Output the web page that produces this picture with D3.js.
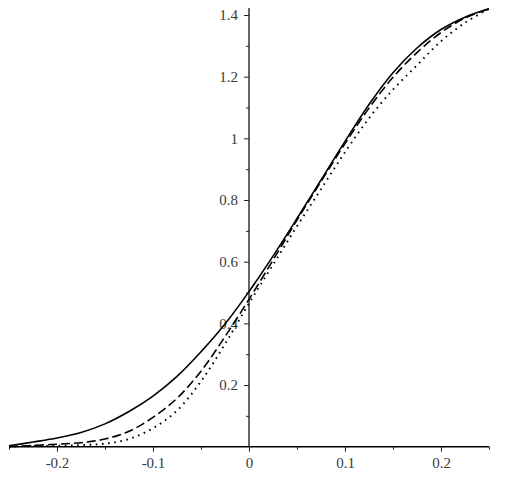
<!DOCTYPE html>
<html><head><meta charset="utf-8">
<script src="https://cdn.jsdelivr.net/npm/d3@7"></script>
<style>body{margin:0;background:#fff}</style>
</head><body>
<svg id="c" width="512" height="500"></svg>
<script>
const xs = [-0.25,-0.225,-0.2,-0.175,-0.15,-0.125,-0.1,-0.075,-0.05,-0.025,0,0.025,0.05,0.075,0.1,0.125,0.15,0.175,0.2,0.225,0.25];
const solid  = [0.003,0.015,0.028,0.046,0.074,0.114,0.164,0.228,0.308,0.398,0.503,0.618,0.74,0.865,0.99,1.11,1.213,1.293,1.353,1.393,1.42];
const dashed = [0.0,0.004,0.008,0.013,0.025,0.05,0.095,0.157,0.245,0.357,0.478,0.605,0.735,0.86,0.983,1.098,1.198,1.278,1.343,1.39,1.42];
const dotted = [0.0,0.002,0.003,0.005,0.01,0.025,0.06,0.117,0.212,0.333,0.465,0.59,0.715,0.835,0.955,1.065,1.158,1.237,1.315,1.375,1.42];
const xMajor = [-0.2,-0.1,0,0.1,0.2];
const xMinor = [-0.25,-0.15,-0.05,0.05,0.15,0.25];
const yMajor = [0.2,0.4,0.6,0.8,1,1.2,1.4];
const yMinor = [0.1,0.3,0.5,0.7,0.9,1.1,1.3];

const svg = d3.select("#c");
const x = d3.scaleLinear().domain([-0.25,0.25]).range([9,489]);
const y = d3.scaleLinear().domain([0,1.4]).range([446.7,15]);
const fmt = d => String(d);

// x axis
const gx = svg.append("g").attr("transform",`translate(0,${y(0)})`);
gx.append("line").attr("x1",x(-0.25)).attr("x2",x(0.25)).attr("stroke","#000").attr("stroke-width",1.6);
gx.append("g").call(d3.axisBottom(x).tickValues(xMajor).tickSize(5).tickPadding(6).tickFormat(fmt));
gx.append("g").call(d3.axisBottom(x).tickValues(xMinor).tickSize(3).tickFormat(""));
// y axis
const gy = svg.append("g").attr("transform",`translate(${x(0)},0)`);
gy.append("line").attr("y1",y(0)).attr("y2",8).attr("stroke","#000").attr("stroke-width",1.2);
gy.append("g").call(d3.axisLeft(y).tickValues(yMajor).tickSize(5).tickPadding(6).tickFormat(fmt));
gy.append("g").call(d3.axisLeft(y).tickValues(yMinor).tickSize(3).tickFormat(""));

svg.selectAll(".domain").remove();
svg.selectAll(".tick line").attr("stroke","#222").attr("stroke-width",1);
svg.selectAll(".tick text").attr("font-family","'Liberation Serif', 'Times New Roman', serif")
  .attr("font-size",15).attr("fill","#3a3a3a");

const line = d3.line().x((d,i)=>x(xs[i])).y(d=>y(d)).curve(d3.curveCatmullRom.alpha(0.5));
const series = [
  {v: dotted, dash: "1.6,4.6", w: 1.9},
  {v: dashed, dash: "9,4", w: 1.6},
  {v: solid, dash: null, w: 1.6}
];
series.forEach(s=>{
  svg.append("path").datum(s.v).attr("d",line).attr("fill","none")
    .attr("stroke","#000").attr("stroke-width",s.w)
    .attr("stroke-dasharray",s.dash);
});
</script>
</body></html>
